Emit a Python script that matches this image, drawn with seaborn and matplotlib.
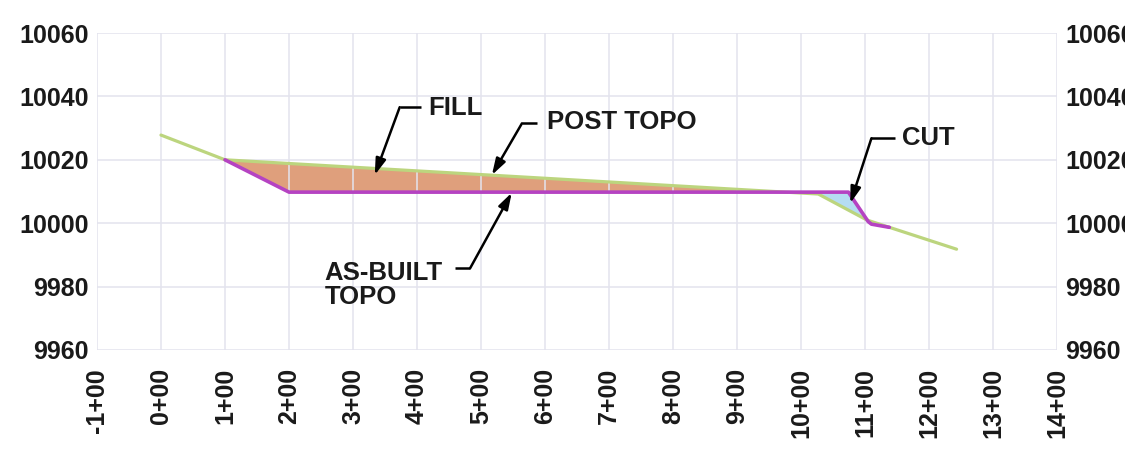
import numpy as np
import matplotlib
matplotlib.use("Agg")
import matplotlib.pyplot as plt
import seaborn as sns

# ---- data (stations in hundreds of feet, elevations in feet) ----
post_x = [0.0, 1.0, 10.27, 11.03, 12.43]
post_y = [10027.8, 10020.0, 10009.2, 10001.0, 9991.8]

asbuilt_x = [1.0, 2.0, 10.74, 11.05, 11.10, 11.38]
asbuilt_y = [10020.0, 10009.8, 10009.8, 10000.5, 9999.7, 9998.7]

x_ticks = list(range(-1, 15))
x_labels = [f"{v}+00" for v in x_ticks]
y_ticks = [9960, 9980, 10000, 10020, 10040, 10060]

# annotations: (text, text_xy, leader_end, corner_xy, arrow_tip_xy)
annots = [
    ("FILL", (4.18, 10036.2), (4.07, 10036.6), (3.73, 10036.6), (3.34, 10015.2)),
    ("POST TOPO", (6.03, 10031.8), (5.87, 10031.5), (5.64, 10031.5), (5.17, 10015.2)),
    ("CUT", (11.57, 10027.0), (11.47, 10026.8), (11.10, 10026.8), (10.77, 10006.3)),
]
asb_text = ("AS-BUILT\nTOPO", (2.56, 9980.5))
asb_leader = [(4.59, 9985.8), (4.83, 9985.8), (5.48, 10009.6)]

GREEN = "#BCD57E"
PURPLE = "#B543C2"
FILL_C = "#DF9F7C"
CUT_C = "#B5DDF2"
GRID_C = "#E3E3EE"

sns.set_theme(style="whitegrid")
plt.rcParams["font.family"] = ["Liberation Sans", "DejaVu Sans"]

fig = plt.figure(figsize=(11.25, 4.49), dpi=100)
ax = fig.add_axes([0.0862, 0.2205, 0.8534, 0.706])

# fill / cut regions
xx = np.linspace(1.0, 11.38, 3000)
p = np.interp(xx, post_x, post_y)
a = np.interp(xx, asbuilt_x, asbuilt_y)
ax.fill_between(xx, a, p, where=p >= a, interpolate=True, color=FILL_C, lw=0, zorder=1)
ax.fill_between(xx, p, a, where=a >= p, interpolate=True, color=CUT_C, lw=0, zorder=1)

sns.lineplot(x=post_x, y=post_y, sort=False, estimator=None, color=GREEN, lw=2.3, ax=ax, zorder=3)
sns.lineplot(x=asbuilt_x, y=asbuilt_y, sort=False, estimator=None, color=PURPLE, lw=2.6, ax=ax, zorder=4)

ax.set_xlim(-1, 14)
ax.set_ylim(9960, 10060)
ax.set_xticks(x_ticks)
ax.set_xticklabels(x_labels, rotation=90, fontsize=18, fontweight="bold")
ax.set_yticks(y_ticks)
ax.set_yticklabels([str(v) for v in y_ticks], fontsize=18, fontweight="bold")
ax.tick_params(axis="x", length=0, pad=13, colors="#1a1a1a")
ax.tick_params(axis="y", length=0, pad=6, colors="#1a1a1a", labelright=True)
for s in ax.spines.values():
    s.set_visible(False)
ax.set_axisbelow(False)
ax.grid(True, color=GRID_C, lw=1.1, zorder=2)
ax.set_facecolor("white")

fs = 18.5
astyle = "-|>,head_length=0.7,head_width=0.22"
for txt, txy, end, corner, tip in annots:
    ax.plot([corner[0], end[0]], [corner[1], end[1]], color="black", lw=1.8, zorder=6,
            solid_capstyle="butt")
    ax.annotate("", xy=tip, xytext=corner,
                arrowprops=dict(arrowstyle=astyle, color="black", lw=1.8,
                                mutation_scale=14, shrinkA=0, shrinkB=0), zorder=6)
    ax.text(txy[0], txy[1], txt, fontsize=fs, fontweight="bold", color="#1a1a1a",
            ha="left", va="center", zorder=7)

ax.plot([asb_leader[0][0], asb_leader[1][0]], [asb_leader[0][1], asb_leader[1][1]],
        color="black", lw=1.8, zorder=6, solid_capstyle="butt")
ax.annotate("", xy=asb_leader[2], xytext=asb_leader[1],
            arrowprops=dict(arrowstyle=astyle, color="black", lw=1.8,
                            mutation_scale=14, shrinkA=0, shrinkB=0), zorder=6)
ax.text(asb_text[1][0], asb_text[1][1], asb_text[0], fontsize=fs, fontweight="bold",
        color="#1a1a1a", ha="left", va="center", linespacing=1.05, zorder=7)

fig.savefig("out.png", dpi=100, facecolor="white")
